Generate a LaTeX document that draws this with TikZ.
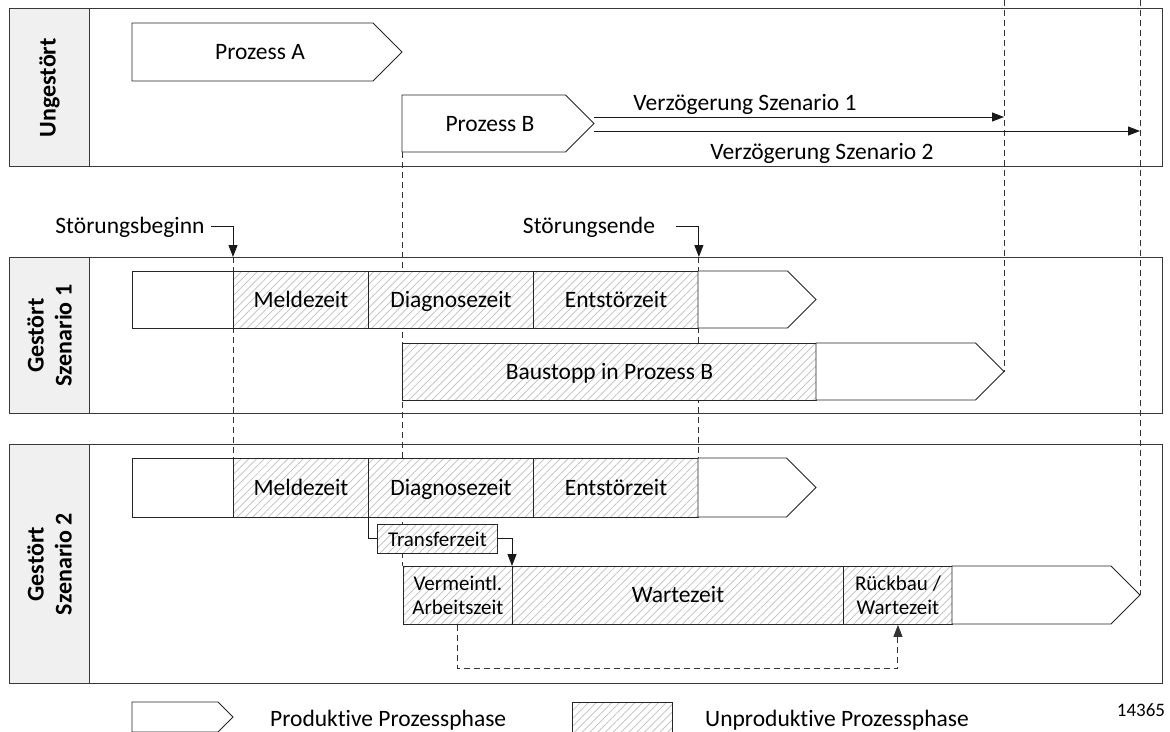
\documentclass[tikz,border=0pt]{standalone}
\usepackage{fontspec}
\setmainfont{Carlito}[RawFeature={-liga;-clig;-dlig;-calt}]
\usetikzlibrary{arrows.meta,patterns.meta,calc}

\pgfdeclarelayer{back}
\pgfdeclarelayer{guides}
\pgfsetlayers{back,guides,main}

% process arrow: name, left x, top y, tip x, bottom y
\newcommand{\procarrow}[5]{%
  \path[outline] (#2,#3) -- ({#4-(#5-#3)/2},#3) -- (#4,{(#3+#5)/2})
    -- ({#4-(#5-#3)/2},#5) -- (#2,#5) -- cycle;
  \coordinate (#1-tip) at (#4,{(#3+#5)/2});
  \coordinate (#1-sw) at (#2,#5);
}

\begin{document}
\begin{tikzpicture}[x=1pt,y=-1pt,
  frame/.style={draw=black!78, line width=1.3pt, fill=white, inner sep=0pt, anchor=north west},
  headcol/.style={draw=black!78, line width=1.3pt, fill=black!6, inner sep=0pt, anchor=north west, minimum width=80pt},
  headtext/.style={rotate=90, align=center, font=\fontsize{24}{28}\selectfont\bfseries, inner sep=0pt},
  outline/.style={draw=black!85, line width=0.9pt, fill=white},
  plain/.style={outline, inner sep=0pt, anchor=north west},
  hatched/.style={draw=black!85, line width=0.9pt, preaction={fill=white},
    pattern={Lines[angle=45,distance=5.5pt,line width=0.7pt]}, pattern color=black!25,
    inner sep=0pt, anchor=north west},
  txt/.style={font=\fontsize{23.5}{27}\selectfont, inner sep=0pt, text height=17.5pt, text depth=2.5pt},
  smalltxt/.style={font=\fontsize{21}{24}\selectfont, inner sep=0pt, align=center},
  guide/.style={draw=black!80, line width=1pt, dash pattern=on 6pt off 4pt},
  flow/.style={draw=black!90, line width=1pt, -{Triangle[length=12pt,width=9pt]}},
  link/.style={draw=black!90, line width=1pt},
]
\useasboundingbox (0,0) rectangle (1170,731);
\clip (0,0) rectangle (1170,731);
\coordinate (origin) at (0,0);

% ---- panels ----
\begin{pgfonlayer}{back}
  \node[frame, minimum width=1153pt, minimum height=158pt] (p1) at (9,8) {};
  \node[headcol, minimum height=158pt] (h1) at (9,8) {};
  \node[frame, minimum width=1153pt, minimum height=156pt] (p2) at (9,257) {};
  \node[headcol, minimum height=156pt] (h2) at (9,257) {};
  \node[frame, minimum width=1153pt, minimum height=239pt] (p3) at (9,444) {};
  \node[headcol, minimum height=239pt] (h3) at (9,444) {};
\end{pgfonlayer}
\node[headtext] at (h1.center) {Ungestört};
\node[headtext] at (h2.center) {Gestört\\Szenario 1};
\node[headtext] at (h3.center) {Gestört\\Szenario 2};

% ---- undisturbed ----
\procarrow{pA}{132}{23}{402}{81}
\node[txt] (tA) at (260,52) {Prozess A};
\procarrow{pB}{402}{95}{594}{152}
\node[txt] (tB) at (490,124) {Prozess B};

% ---- disturbed, scenario 1 ----
\node[plain, minimum width=101pt, minimum height=57pt] (s1pre) at (132,271) {};
\node[hatched, txt, minimum width=135pt, minimum height=57pt] (s1mel) at (233,271) {Meldezeit};
\node[hatched, txt, minimum width=165pt, minimum height=57pt] (s1dia) at (368,271) {Diagnosezeit};
\node[hatched, txt, minimum width=165pt, minimum height=57pt] (s1ent) at (533,271) {Entstörzeit};
\procarrow{s1row}{698}{271}{816}{328}
\node[hatched, txt, minimum width=414pt, minimum height=57pt] (s1stop) at (402,343) {Baustopp in Prozess B};
\procarrow{s1tail}{816}{343}{1004}{400}

% ---- disturbed, scenario 2 ----
\node[plain, minimum width=101pt, minimum height=59pt] (s2pre) at (132,458) {};
\node[hatched, txt, minimum width=135pt, minimum height=59pt] (s2mel) at (233,458) {Meldezeit};
\node[hatched, txt, minimum width=165pt, minimum height=59pt] (s2dia) at (368,458) {Diagnosezeit};
\node[hatched, txt, minimum width=165pt, minimum height=59pt] (s2ent) at (533,458) {Entstörzeit};
\procarrow{s2row}{698}{458}{816}{517}
\node[hatched, smalltxt, minimum width=120pt, minimum height=29pt] (tz) at (377,524) {Transferzeit};
\node[hatched, smalltxt, minimum width=109pt, minimum height=58pt] (verm) at (403,566) {Vermeintl.\\Arbeitszeit};
\node[hatched, txt, minimum width=331pt, minimum height=58pt] (warte) at (512,566) {Wartezeit};
\node[hatched, smalltxt, minimum width=109pt, minimum height=58pt] (rueck) at (843,566) {Rückbau /\\Wartezeit};
\procarrow{s2tail}{952}{566}{1140}{624}

% ---- time markers ----
\begin{pgfonlayer}{guides}
  \draw[guide] (pB-sw) -- (pB-sw |- verm.north);
  \draw[guide] (s1tail-tip |- origin) -- (s1tail-tip);
  \draw[guide] (s2tail-tip |- origin) -- (s2tail-tip);
  \draw[guide] (s1mel.north west |- p2.north) -- (s2mel.north west);
  \draw[guide] (s1ent.north east |- p2.north) -- (s2ent.north east);
\end{pgfonlayer}

\node[txt] (sb) at (130,226) {Störungsbeginn};
\draw[flow] ([xshift=6pt]sb.east) -| (s1mel.north west |- p2.north);
\node[txt] (se) at (589,226) {Störungsende};
\draw[flow] ([xshift=21pt]se.east) -| (s1ent.north east |- p2.north);

% ---- delays ----
\coordinate (d1) at (594,117);
\coordinate (d2) at (594,131);
\draw[flow] (d1) -- (d1 -| s1tail-tip);
\draw[flow] (d2) -- (d2 -| s2tail-tip);
\node[txt] at (745,103) {Verzögerung Szenario 1};
\node[txt] at (822,152) {Verzögerung Szenario 2};

% ---- transfer and rework ----
\draw[link] (s2dia.south west) |- (tz.west);
\draw[flow] (tz.east) -| (warte.north west);
\draw[guide, -{Triangle[length=12pt,width=9pt]}] (verm.south) -- ++(0,44) -| (rueck.south);

% ---- legend ----
\procarrow{leg}{132}{702}{233}{732}
\node[txt, anchor=west] at (270,719) {Produktive Prozessphase};
\node[hatched, minimum width=100pt, minimum height=40pt] (leghatch) at (572,702) {};
\node[txt, anchor=west] at (705,719) {Unproduktive Prozessphase};
\node[font=\fontsize{19}{22}\selectfont, inner sep=0pt] at (1141,710) {14365};
\end{tikzpicture}
\end{document}
